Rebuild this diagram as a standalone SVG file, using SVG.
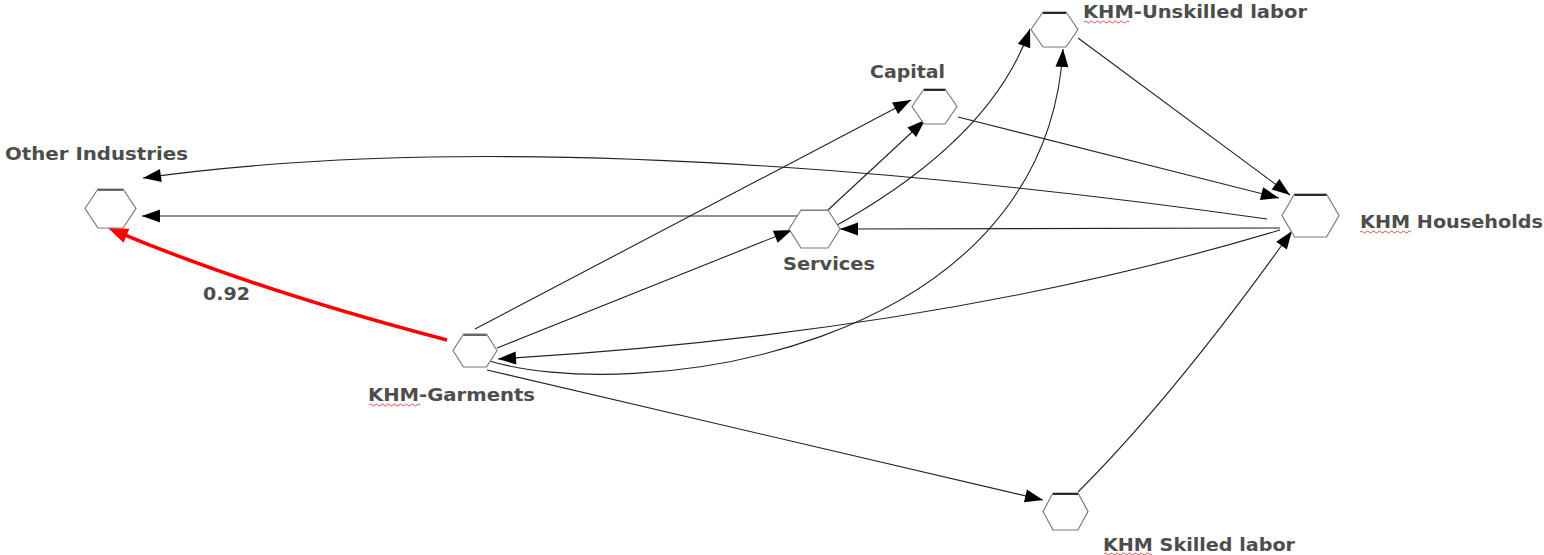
<svg xmlns="http://www.w3.org/2000/svg" width="1544" height="555" viewBox="0 0 1544 555">
<style>
.hex{fill:#fff;stroke:#7a7a7a;stroke-width:1.2}
.top{stroke:#2a2a2a;stroke-width:2}
.lbl{font-family:"DejaVu Sans",Verdana,sans-serif;font-weight:bold;font-size:17px;fill:#4d4d4d}
.edge{fill:none;stroke:#222;stroke-width:1.1}
.red{fill:none;stroke:#ff0000;stroke-width:3.5}
.sq{fill:none;stroke:#e03a3a;stroke-width:0.9}
</style>
<defs>
<marker id="ah" markerUnits="userSpaceOnUse" markerWidth="19" markerHeight="14" refX="18" refY="6.5" orient="auto" overflow="visible">
<path d="M0,0 L18,6.5 L0,13 z" fill="#000"/>
</marker>
<marker id="ahr" markerUnits="userSpaceOnUse" markerWidth="21" markerHeight="16" refX="12" refY="7.5" orient="auto" overflow="visible">
<path d="M0,0 L20,7.5 L0,15 z" fill="#ff0000"/>
</marker>
</defs>
<rect width="1544" height="555" fill="#fff"/>
<g id="connectors">
<path class="edge" d="M1267,219 Q560,120 143,178" marker-end="url(#ah)"/>
<path class="edge" d="M800,216 L142,216" marker-end="url(#ah)"/>
<path class="red" d="M447,340 Q256,290 115.4,231.1" marker-end="url(#ahr)"/>
<path class="edge" d="M475,329 L911,100" marker-end="url(#ah)"/>
<path class="edge" d="M828,210 L925,120" marker-end="url(#ah)"/>
<path class="edge" d="M497,348 L792,230" marker-end="url(#ah)"/>
<path class="edge" d="M830,229 Q991,141 1030,29" marker-end="url(#ah)"/>
<path class="edge" d="M486,360 C630,405 1045,355 1063,49" marker-end="url(#ah)"/>
<path class="edge" d="M487,370 L1043,500" marker-end="url(#ah)"/>
<path class="edge" d="M1078,492 Q1174.5,395.5 1292,231" marker-end="url(#ah)"/>
<path class="edge" d="M1078,38 L1290,195" marker-end="url(#ah)"/>
<path class="edge" d="M958,117 L1279,198" marker-end="url(#ah)"/>
<path class="edge" d="M1280,228 L840,229" marker-end="url(#ah)"/>
<path class="edge" d="M1280,230 Q938,333 498,359" marker-end="url(#ah)"/>
</g>
<g id="n-other-industries">
<polygon class="hex" points="85,208.5 98,189 123,189 136,208.5 123,228 98,228"/>
<line class="top" x1="98" y1="190" x2="123" y2="190" style="stroke:#666"/>
<text class="lbl" x="5" y="160" textLength="183" lengthAdjust="spacingAndGlyphs">Other Industries</text>
</g>
<g id="n-capital">
<polygon class="hex" points="912,106.5 924,89 945,89 957,106.5 945,124 924,124"/>
<line class="top" x1="924" y1="90" x2="945" y2="90"/>
<text class="lbl" x="870" y="78" textLength="75" lengthAdjust="spacingAndGlyphs">Capital</text>
</g>
<g id="n-unskilled">
<polygon class="hex" points="1031,29.5 1043,12 1066,12 1078,29.5 1066,47 1043,47"/>
<line class="top" x1="1043" y1="13" x2="1066" y2="13"/>
<text class="lbl" x="1083" y="18" textLength="224" lengthAdjust="spacingAndGlyphs">KHM-Unskilled labor</text>
<path class="sq" d="M1084,22 q1.5,-2 3,0 t3,0 t3,0 t3,0 t3,0 t3,0 t3,0 t3,0 t3,0 t3,0 t3,0 t3,0 t3,0 t3,0 t3,0"/>
</g>
<g id="n-services">
<polygon class="hex" points="789,229 801,210 828,210 840,229 828,248 801,248"/>
<line class="top" x1="801" y1="210.5" x2="828" y2="210.5" style="stroke:#888;stroke-width:1.2"/>
<text class="lbl" x="783" y="270" textLength="92" lengthAdjust="spacingAndGlyphs">Services</text>
</g>
<g id="n-households">
<polygon class="hex" points="1282,215.5 1294.5,194 1326.5,194 1339,215.5 1326.5,237 1294.5,237"/>
<line class="top" x1="1294.5" y1="195" x2="1326.5" y2="195"/>
<text class="lbl" x="1360" y="228" textLength="183" lengthAdjust="spacingAndGlyphs">KHM Households</text>
<path class="sq" d="M1360,232 q1.5,-2 3,0 t3,0 t3,0 t3,0 t3,0 t3,0 t3,0 t3,0 t3,0 t3,0 t3,0 t3,0 t3,0 t3,0 t3,0 t3,0 t3,0"/>
</g>
<g id="n-garments">
<polygon class="hex" points="453,350.5 463.5,334 486.5,334 497,350.5 486.5,367 463.5,367"/>
<line class="top" x1="463.5" y1="335" x2="486.5" y2="335" style="stroke:#666"/>
<text class="lbl" x="368" y="401" textLength="167" lengthAdjust="spacingAndGlyphs">KHM-Garments</text>
<path class="sq" d="M369,405 q1.5,-2 3,0 t3,0 t3,0 t3,0 t3,0 t3,0 t3,0 t3,0 t3,0 t3,0 t3,0 t3,0 t3,0 t3,0 t3,0 t3,0 t3,0"/>
</g>
<g id="n-skilled">
<polygon class="hex" points="1043,511.5 1053,493 1078,493 1088,511.5 1078,530 1053,530"/>
<line class="top" x1="1053" y1="494" x2="1078" y2="494"/>
<text class="lbl" x="1103" y="551" textLength="192" lengthAdjust="spacingAndGlyphs">KHM Skilled labor</text>
<path class="sq" d="M1104,554 q1.5,-2 3,0 t3,0 t3,0 t3,0 t3,0 t3,0 t3,0 t3,0 t3,0 t3,0 t3,0 t3,0 t3,0 t3,0 t3,0 t3,0"/>
</g>
<g id="edge-label">
<text class="lbl" x="203" y="300" textLength="47" lengthAdjust="spacingAndGlyphs">0.92</text>
</g>
</svg>
